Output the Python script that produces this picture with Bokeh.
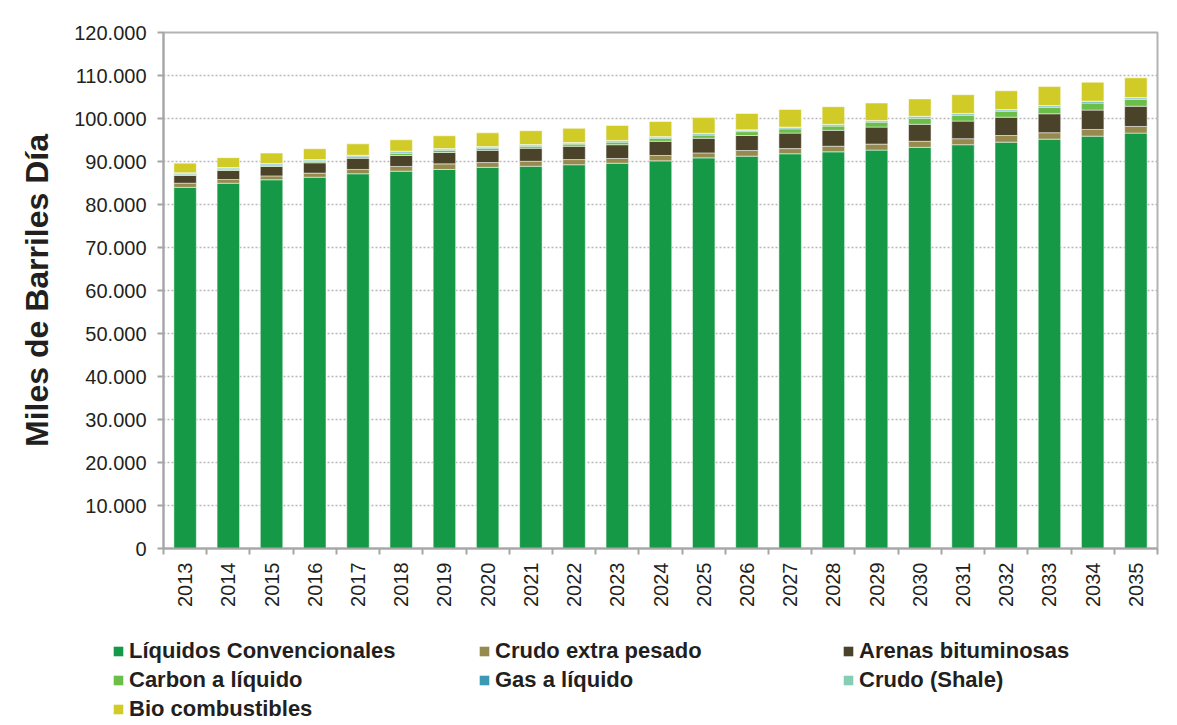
import numpy as np
from bokeh.plotting import figure
from bokeh.models import ColumnDataSource, FixedTicker, Legend, LegendItem
from bokeh.embed import file_html
from bokeh.resources import INLINE

years = list(range(2013, 2036))
conv = [84000, 84950, 85750, 86350, 87150, 87750, 88150, 88650, 88900, 89250, 89600, 90150,
        90850, 91250, 91800, 92250, 92650, 93300, 93900, 94500, 95200, 95900, 96600]
extra = [950, 850, 900, 950, 1000, 1100, 1300, 1100, 1150, 1200, 1100, 1250,
         1150, 1300, 1200, 1300, 1400, 1400, 1400, 1550, 1500, 1550, 1550]
arenas = [1800, 2100, 2200, 2400, 2600, 2550, 2650, 2850, 3050, 3100, 3200, 3300,
          3400, 3500, 3600, 3700, 3950, 3950, 4100, 4250, 4400, 4500, 4700]
carbon = [250, 300, 300, 350, 350, 500, 500, 450, 450, 500, 600, 700,
          750, 900, 1000, 1000, 1150, 1400, 1350, 1350, 1500, 1650, 1600]
gas = [250, 250, 250, 250, 200, 300, 250, 250, 250, 200, 250, 250,
       250, 250, 250, 250, 250, 300, 300, 300, 300, 300, 300]
shale = [120, 150, 150, 170, 150, 200, 180, 160, 160, 160, 150, 140,
         160, 180, 150, 150, 150, 160, 140, 140, 130, 140, 120]
bio = [2250, 2300, 2400, 2500, 2650, 2650, 2950, 3200, 3200, 3300, 3500, 3500,
       3650, 3800, 4100, 4100, 4050, 4050, 4350, 4350, 4400, 4400, 4600]

series = ["Líquidos Convencionales", "Crudo extra pesado", "Arenas bituminosas",
          "Carbon a líquido", "Gas a líquido", "Crudo (Shale)", "Bio combustibles"]
colors = ["#169946", "#968a4e", "#4a4229", "#6bbe47", "#3a9ab4", "#85cdb5", "#d1cb27"]
keys = ["conv", "extra", "arenas", "carbon", "gas", "shale", "bio"]

ytick_vals = [0, 10000, 20000, 30000, 40000, 50000, 60000, 70000, 80000, 90000, 100000, 110000, 120000]
ytick_labels = ["0", "10.000", "20.000", "30.000", "40.000", "50.000", "60.000", "70.000",
                "80.000", "90.000", "100.000", "110.000", "120.000"]

src = ColumnDataSource(dict(year=years, conv=conv, extra=extra, arenas=arenas, carbon=carbon,
                            gas=gas, shale=shale, bio=bio))

FONT = "Liberation Sans"
TXT = "#231f20"
GRAY = "#a6a6a6"

p = figure(width=1177, height=620, output_backend="svg", toolbar_location=None,
           x_range=(2012.5, 2035.5), y_range=(0, 120000),
           min_border_left=163, min_border_top=32, min_border_right=20, min_border_bottom=72)

rs = p.vbar_stack(keys, x="year", width=0.52, source=src, fill_color=colors,
                  line_color="white", line_alpha=0.5, line_width=1)

# axes
p.yaxis.ticker = FixedTicker(ticks=ytick_vals)
p.yaxis.major_label_overrides = {v: l for v, l in zip(ytick_vals, ytick_labels)}
p.yaxis.major_label_text_font = FONT
p.yaxis.major_label_text_font_size = "20px"
p.yaxis.major_label_text_color = TXT
p.yaxis.major_tick_out = 6
p.yaxis.major_tick_in = 0
p.yaxis.minor_tick_out = 0
p.yaxis.minor_tick_in = 0
p.yaxis.major_label_standoff = 11
p.yaxis.axis_line_color = GRAY
p.yaxis.axis_line_width = 2
p.yaxis.major_tick_line_color = GRAY
p.yaxis.major_tick_line_width = 2
p.yaxis.axis_label = "Miles de Barriles Día"
p.yaxis.axis_label_text_font = FONT
p.yaxis.axis_label_text_font_style = "bold"
p.yaxis.axis_label_text_font_size = "32px"
p.yaxis.axis_label_text_color = TXT
p.yaxis.axis_label_standoff = 16

p.xaxis.ticker = FixedTicker(ticks=years, minor_ticks=[y - 0.5 for y in years] + [years[-1] + 0.5])
p.xaxis.major_tick_out = 0
p.xaxis.major_tick_in = 0
p.xaxis.minor_tick_out = 6
p.xaxis.minor_tick_in = 0
p.xaxis.minor_tick_line_color = GRAY
p.xaxis.minor_tick_line_width = 2
p.xaxis.axis_line_color = GRAY
p.xaxis.axis_line_width = 2
p.xaxis.major_label_orientation = np.pi / 2
p.xaxis.major_label_standoff = 8
p.xaxis.major_label_text_font = FONT
p.xaxis.major_label_text_font_size = "20px"
p.xaxis.major_label_text_color = TXT

p.xgrid.visible = False
p.ygrid.grid_line_color = "#b8b8b8"
p.ygrid.grid_line_dash = "2 2"
p.ygrid.grid_line_width = 1.5
p.outline_line_color = "#b3b3b3"
p.outline_line_width = 2

# legend panel: a separate root figure whose frame spans its whole width
p2 = figure(width=1177, height=105, output_backend="svg", toolbar_location=None,
            x_range=(0, 1), y_range=(0, 1), min_border=0,
            x_axis_location=None, y_axis_location=None)
p2.grid.visible = False
p2.outline_line_color = None
# placeholder glyphs (outside the visible range) that only feed the legend swatches
lr = [p2.vbar(x=[-5], top=[0], width=0.5, fill_color=c, line_color=None) for c in colors]

def make_legend(idx, loc):
    lg = Legend(items=[LegendItem(label=series[i], renderers=[lr[i]]) for i in idx],
                location=loc, orientation="vertical")
    lg.label_text_font = FONT
    lg.label_text_font_style = "bold"
    lg.label_text_font_size = "22px"
    lg.label_text_color = TXT
    lg.label_height = 24
    lg.glyph_width = 12
    lg.glyph_height = 12
    lg.label_standoff = 5
    lg.spacing = 3
    lg.padding = 0
    lg.margin = 0
    lg.border_line_color = None
    lg.background_fill_alpha = 0
    return lg

p2.add_layout(make_legend([0, 3, 6], (112, 3)), "center")
p2.add_layout(make_legend([1, 4], (478, 32)), "center")
p2.add_layout(make_legend([2, 5], (842, 32)), "center")

open("out.html", "w").write(file_html([p, p2], INLINE))
